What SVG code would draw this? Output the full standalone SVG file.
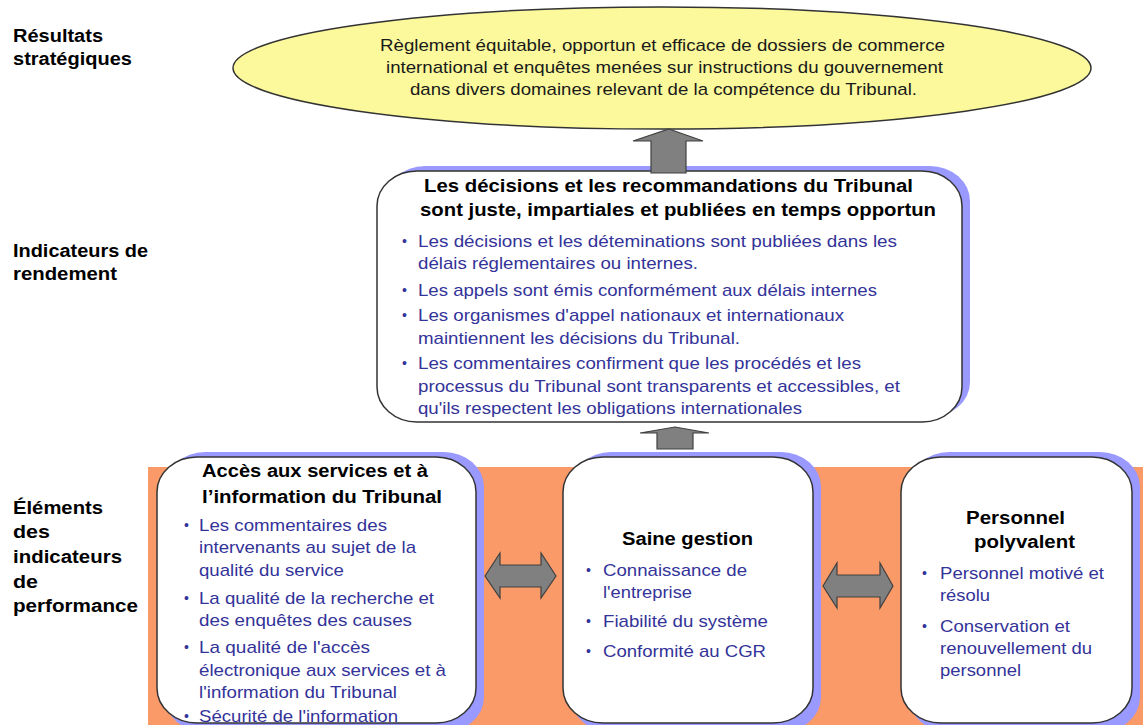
<svg xmlns="http://www.w3.org/2000/svg" width="1143" height="725" viewBox="0 0 1143 725">
<style>
.lbl{font-family:"Liberation Sans",Arial,sans-serif;font-weight:bold;font-size:18px;fill:#000}
.ttl{font-family:"Liberation Sans",Arial,sans-serif;font-weight:bold;font-size:18px;fill:#000}
.bul{font-family:"Liberation Sans",Arial,sans-serif;font-size:17px;fill:#333399}
.dot{font-family:"Liberation Sans",Arial,sans-serif;font-size:14px;fill:#333399}
.ell{font-family:"Liberation Sans",Arial,sans-serif;font-size:17px;fill:#1a1a1a}
.shadow{fill:#9999FF}
.box{fill:#fff;stroke:#333;stroke-width:1.5}
.arr{fill:#808080;stroke:#404040;stroke-width:1.2;stroke-linejoin:miter}
</style>
<rect width="1143" height="725" fill="#fff"/>
<rect x="148" y="467" width="995" height="258" fill="#FA9A68"/>

<g id="labels">
<text class="lbl" x="13" y="42" textLength="90" lengthAdjust="spacingAndGlyphs">Résultats</text>
<text class="lbl" x="13" y="65" textLength="119" lengthAdjust="spacingAndGlyphs">stratégiques</text>
<text class="lbl" x="13" y="257" textLength="135" lengthAdjust="spacingAndGlyphs">Indicateurs de</text>
<text class="lbl" x="13" y="280" textLength="104" lengthAdjust="spacingAndGlyphs">rendement</text>
<text class="lbl" x="13" y="514" textLength="90" lengthAdjust="spacingAndGlyphs">Éléments</text>
<text class="lbl" x="13" y="538" textLength="37" lengthAdjust="spacingAndGlyphs">des</text>
<text class="lbl" x="13" y="563" textLength="109" lengthAdjust="spacingAndGlyphs">indicateurs</text>
<text class="lbl" x="13" y="588" textLength="25" lengthAdjust="spacingAndGlyphs">de</text>
<text class="lbl" x="13" y="612" textLength="125" lengthAdjust="spacingAndGlyphs">performance</text>
</g>

<g id="node-resultat">
<ellipse cx="662" cy="68" rx="429" ry="61" fill="#FBF99B" stroke="#333" stroke-width="1.5"/>
<text class="ell" x="380" y="51" textLength="565" lengthAdjust="spacingAndGlyphs">Règlement équitable, opportun et efficace de dossiers de commerce</text>
<text class="ell" x="386" y="73" textLength="557" lengthAdjust="spacingAndGlyphs">international et enquêtes menées sur instructions du gouvernement</text>
<text class="ell" x="410" y="95" textLength="507" lengthAdjust="spacingAndGlyphs">dans divers domaines relevant de la compétence du Tribunal.</text>
</g>

<g id="node-decisions">
<rect class="shadow" x="385" y="166" width="585" height="251" rx="40" ry="35"/>
<rect class="box" x="377" y="171" width="585" height="251" rx="40" ry="35"/>
<text class="ttl" x="424" y="192" textLength="489" lengthAdjust="spacingAndGlyphs">Les décisions et les recommandations du Tribunal</text>
<text class="ttl" x="420" y="216" textLength="516" lengthAdjust="spacingAndGlyphs">sont juste, impartiales et publiées en temps opportun</text>
<text class="dot" x="402" y="246">•</text>
<text class="bul" x="418" y="247" textLength="479" lengthAdjust="spacingAndGlyphs">Les décisions et les déteminations sont publiées dans les</text>
<text class="bul" x="418" y="269" textLength="280" lengthAdjust="spacingAndGlyphs">délais réglementaires ou internes.</text>
<text class="dot" x="402" y="295">•</text>
<text class="bul" x="418" y="296" textLength="459" lengthAdjust="spacingAndGlyphs">Les appels sont émis conformément aux délais internes</text>
<text class="dot" x="402" y="320">•</text>
<text class="bul" x="418" y="321" textLength="426" lengthAdjust="spacingAndGlyphs">Les organismes d'appel nationaux et internationaux</text>
<text class="bul" x="418" y="344" textLength="322" lengthAdjust="spacingAndGlyphs">maintiennent les décisions du Tribunal.</text>
<text class="dot" x="402" y="368">•</text>
<text class="bul" x="418" y="369" textLength="443" lengthAdjust="spacingAndGlyphs">Les commentaires confirment que les procédés et les</text>
<text class="bul" x="418" y="392" textLength="482" lengthAdjust="spacingAndGlyphs">processus du Tribunal sont transparents et accessibles, et</text>
<text class="bul" x="418" y="414" textLength="384" lengthAdjust="spacingAndGlyphs">qu'ils respectent les obligations internationales</text>
</g>

<g id="node-acces">
<rect class="shadow" x="165" y="452" width="319" height="280" rx="40" ry="35"/>
<rect class="box" x="157" y="457" width="319" height="266" rx="40" ry="35"/>
<text class="ttl" x="202" y="477" textLength="226" lengthAdjust="spacingAndGlyphs">Accès aux services et à</text>
<text class="ttl" x="202" y="503" textLength="240" lengthAdjust="spacingAndGlyphs">l’information du Tribunal</text>
<text class="dot" x="184" y="530">•</text>
<text class="bul" x="199" y="531" textLength="188" lengthAdjust="spacingAndGlyphs">Les commentaires des</text>
<text class="bul" x="199" y="553" textLength="217" lengthAdjust="spacingAndGlyphs">intervenants au sujet de la</text>
<text class="bul" x="199" y="576" textLength="145" lengthAdjust="spacingAndGlyphs">qualité du service</text>
<text class="dot" x="184" y="603">•</text>
<text class="bul" x="199" y="604" textLength="235" lengthAdjust="spacingAndGlyphs">La qualité de la recherche et</text>
<text class="bul" x="199" y="626" textLength="213" lengthAdjust="spacingAndGlyphs">des enquêtes des causes</text>
<text class="dot" x="184" y="652">•</text>
<text class="bul" x="199" y="653" textLength="171" lengthAdjust="spacingAndGlyphs">La qualité de l'accès</text>
<text class="bul" x="199" y="676" textLength="247" lengthAdjust="spacingAndGlyphs">électronique aux services et à</text>
<text class="bul" x="199" y="698" textLength="198" lengthAdjust="spacingAndGlyphs">l'information du Tribunal</text>
<text class="dot" x="184" y="721">•</text>
<text class="bul" x="199" y="722" textLength="199" lengthAdjust="spacingAndGlyphs">Sécurité de l'information</text>
</g>

<g id="node-gestion">
<rect class="shadow" x="571" y="452" width="250" height="280" rx="40" ry="35"/>
<rect class="box" x="563" y="457" width="250" height="266" rx="40" ry="35"/>
<text class="ttl" x="622" y="545" textLength="131" lengthAdjust="spacingAndGlyphs">Saine gestion</text>
<text class="dot" x="586" y="575">•</text>
<text class="bul" x="603" y="576" textLength="144" lengthAdjust="spacingAndGlyphs">Connaissance de</text>
<text class="bul" x="603" y="598" textLength="89" lengthAdjust="spacingAndGlyphs">l'entreprise</text>
<text class="dot" x="586" y="626">•</text>
<text class="bul" x="603" y="627" textLength="165" lengthAdjust="spacingAndGlyphs">Fiabilité du système</text>
<text class="dot" x="586" y="656">•</text>
<text class="bul" x="603" y="657" textLength="163" lengthAdjust="spacingAndGlyphs">Conformité au CGR</text>
</g>

<g id="node-personnel">
<rect class="shadow" x="909" y="452" width="231" height="280" rx="40" ry="35"/>
<rect class="box" x="901" y="457" width="231" height="266" rx="40" ry="35"/>
<text class="ttl" x="966" y="524" textLength="99" lengthAdjust="spacingAndGlyphs">Personnel</text>
<text class="ttl" x="974" y="548" textLength="101" lengthAdjust="spacingAndGlyphs">polyvalent</text>
<text class="dot" x="922" y="578">•</text>
<text class="bul" x="940" y="579" textLength="164" lengthAdjust="spacingAndGlyphs">Personnel motivé et</text>
<text class="bul" x="940" y="601" textLength="50" lengthAdjust="spacingAndGlyphs">résolu</text>
<text class="dot" x="922" y="631">•</text>
<text class="bul" x="940" y="632" textLength="130" lengthAdjust="spacingAndGlyphs">Conservation et</text>
<text class="bul" x="940" y="654" textLength="152" lengthAdjust="spacingAndGlyphs">renouvellement du</text>
<text class="bul" x="940" y="676" textLength="81" lengthAdjust="spacingAndGlyphs">personnel</text>
</g>

<g id="connectors">
<polygon class="arr" points="669,129 703,141 686,141 686,173 651,173 651,141 633,141"/>
<polygon class="arr" points="675,427 709,433 693,433 693,449 657,449 657,433 640,433"/>
<polygon class="arr" points="485,576 500,553 500,565 541,565 541,553 556,576 541,598 541,587 500,587 500,598"/>
<polygon class="arr" points="823,586 837,563 837,575 880,575 880,563 893,586 880,608 880,597 837,597 837,608"/>
</g>
</svg>
